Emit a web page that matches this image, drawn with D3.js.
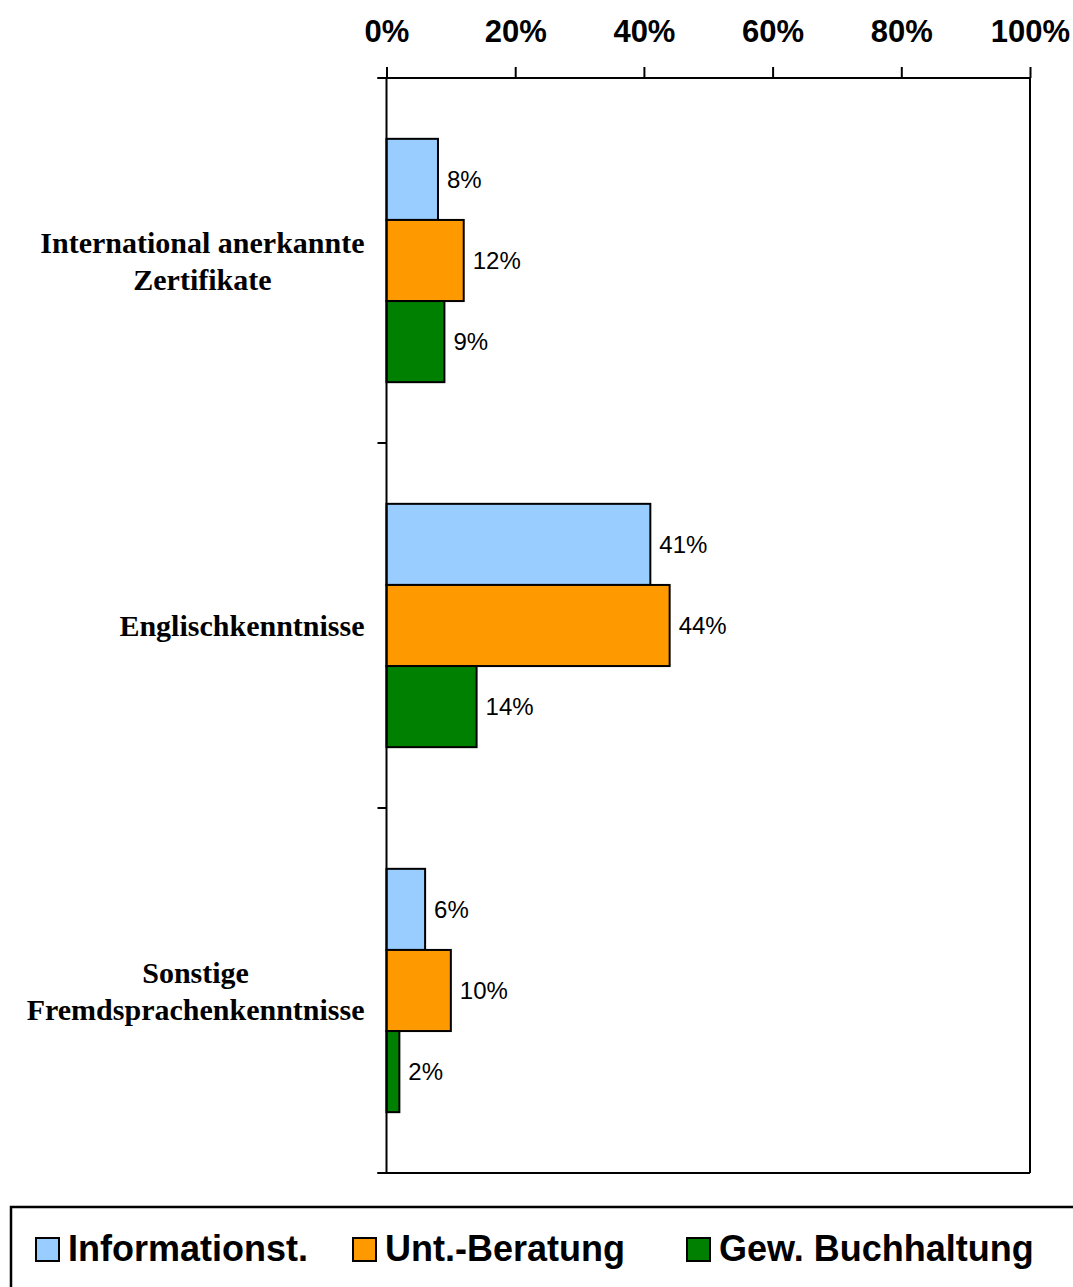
<!DOCTYPE html>
<html>
<head>
<meta charset="utf-8">
<script src="https://cdn.jsdelivr.net/npm/d3@7"></script>
<style>
  body { margin: 0; background: #fff; }
  svg { display: block; }
</style>
</head>
<body>
<div id="chart"></div>
<script>
// data
var categories = [
  ["International anerkannte", "Zertifikate"],
  ["Englischkenntnisse"],
  ["Sonstige", "Fremdsprachenkenntnisse"]
];
var seriesNames = ["Informationst.", "Unt.-Beratung", "Gew. Buchhaltung"];
var seriesColors = ["#99CCFF", "#FF9900", "#008000"];
var informationst = [8, 41, 6];
var untBeratung = [12, 44, 10];
var gewBuchhaltung = [9, 14, 2];
var xTicks = [0, 20, 40, 60, 80, 100];

var W = 1073, H = 1287;
var plot = {left: 386.5, right: 1030, top: 78, bottom: 1173};
var legendX = [36, 353, 687];

var svg = d3.select("#chart").append("svg")
    .attr("width", W)
    .attr("height", H);

var catKeys = categories.map(function(d, i) { return "c" + i; });
var values = [informationst, untBeratung, gewBuchhaltung];

var x = d3.scaleLinear().domain([0, 100]).range([plot.left, plot.right]);
var y0 = d3.scaleBand().domain(catKeys).range([plot.top, plot.bottom]).padding(0);
var y1 = d3.scaleBand().domain(seriesNames).range([0, y0.bandwidth()]).paddingOuter(0.75).paddingInner(0);

// frame (right + bottom)
svg.append("line")
    .attr("x1", plot.right).attr("x2", plot.right)
    .attr("y1", plot.top).attr("y2", plot.bottom)
    .attr("stroke", "#000").attr("stroke-width", 2);
svg.append("line")
    .attr("x1", plot.left - 9).attr("x2", plot.right)
    .attr("y1", plot.bottom).attr("y2", plot.bottom)
    .attr("stroke", "#000").attr("stroke-width", 2);

// bars
var groups = svg.selectAll(".cat")
    .data(catKeys)
  .enter().append("g")
    .attr("class", "cat")
    .attr("transform", function(d) { return "translate(0," + y0(d) + ")"; });

groups.each(function(ck, ci) {
  var g = d3.select(this);
  var rows = seriesNames.map(function(s, si) { return {s: s, si: si, v: values[si][ci]}; });
  g.selectAll("rect")
      .data(rows)
    .enter().append("rect")
      .attr("x", x(0))
      .attr("y", function(d) { return y1(d.s); })
      .attr("width", function(d) { return x(d.v) - x(0); })
      .attr("height", y1.bandwidth())
      .attr("fill", function(d) { return seriesColors[d.si]; })
      .attr("stroke", "#000")
      .attr("stroke-width", 2);
  g.selectAll("text.val")
      .data(rows)
    .enter().append("text")
      .attr("class", "val")
      .attr("x", function(d) { return x(d.v) + 9; })
      .attr("y", function(d) { return y1(d.s) + y1.bandwidth() / 2; })
      .attr("dy", "0.35em")
      .style("font", "24px Arial, 'Liberation Sans', sans-serif")
      .text(function(d) { return d.v + "%"; });
});

// top axis
var xAxis = d3.axisTop(x).tickValues(xTicks).tickSize(11).tickPadding(25)
    .tickFormat(function(d) { return d + "%"; });
var gx = svg.append("g")
    .attr("transform", "translate(0," + plot.top + ")")
    .call(xAxis);
gx.select(".domain").attr("d", "M" + (plot.left - 9) + ",0H" + plot.right)
    .attr("stroke-width", 2);
gx.selectAll(".tick line").attr("stroke-width", 2);
gx.selectAll(".tick text")
    .style("font", "bold 31px Arial, 'Liberation Sans', sans-serif")
    .attr("fill", "#000");

// left axis line + ticks at category boundaries
svg.append("line")
    .attr("x1", plot.left).attr("x2", plot.left)
    .attr("y1", plot.top).attr("y2", plot.bottom)
    .attr("stroke", "#000").attr("stroke-width", 2);
var bounds = catKeys.map(function(k) { return y0(k); }).concat([plot.bottom]);
svg.selectAll(".ytick")
    .data(bounds)
  .enter().append("line")
    .attr("class", "ytick")
    .attr("x1", plot.left - 9).attr("x2", plot.left)
    .attr("y1", function(d) { return d; }).attr("y2", function(d) { return d; })
    .attr("stroke", "#000").attr("stroke-width", 2);

// category labels: block right-aligned, lines centred within block
var lineH = 37;
categories.forEach(function(lines, i) {
  var cy = y0(catKeys[i]) + y0.bandwidth() / 2;
  var t = svg.append("text")
      .style("font", "bold 30px 'Times New Roman', 'Liberation Serif', serif")
      .attr("text-anchor", "middle");
  var spans = t.selectAll("tspan")
      .data(lines)
    .enter().append("tspan")
      .attr("y", function(d, j) { return cy + (j - (lines.length - 1) / 2) * lineH; })
      .attr("dy", "0.35em")
      .text(function(d) { return d; });
  var maxW = 0;
  spans.each(function() { maxW = Math.max(maxW, this.getComputedTextLength()); });
  spans.attr("x", plot.left - 22 - maxW / 2);
});

// legend
svg.append("rect")
    .attr("x", 11).attr("y", 1207)
    .attr("width", 1100).attr("height", 120)
    .attr("fill", "none")
    .attr("stroke", "#000").attr("stroke-width", 2.5);

seriesNames.forEach(function(s, i) {
  var lx = legendX[i];
  svg.append("rect")
      .attr("x", lx).attr("y", 1238)
      .attr("width", 23).attr("height", 23)
      .attr("fill", seriesColors[i])
      .attr("stroke", "#000").attr("stroke-width", 2);
  svg.append("text")
      .attr("x", lx + 32).attr("y", 1261)
      .style("font", "bold 36px Arial, 'Liberation Sans', sans-serif")
      .text(s);
});
</script>
</body>
</html>
